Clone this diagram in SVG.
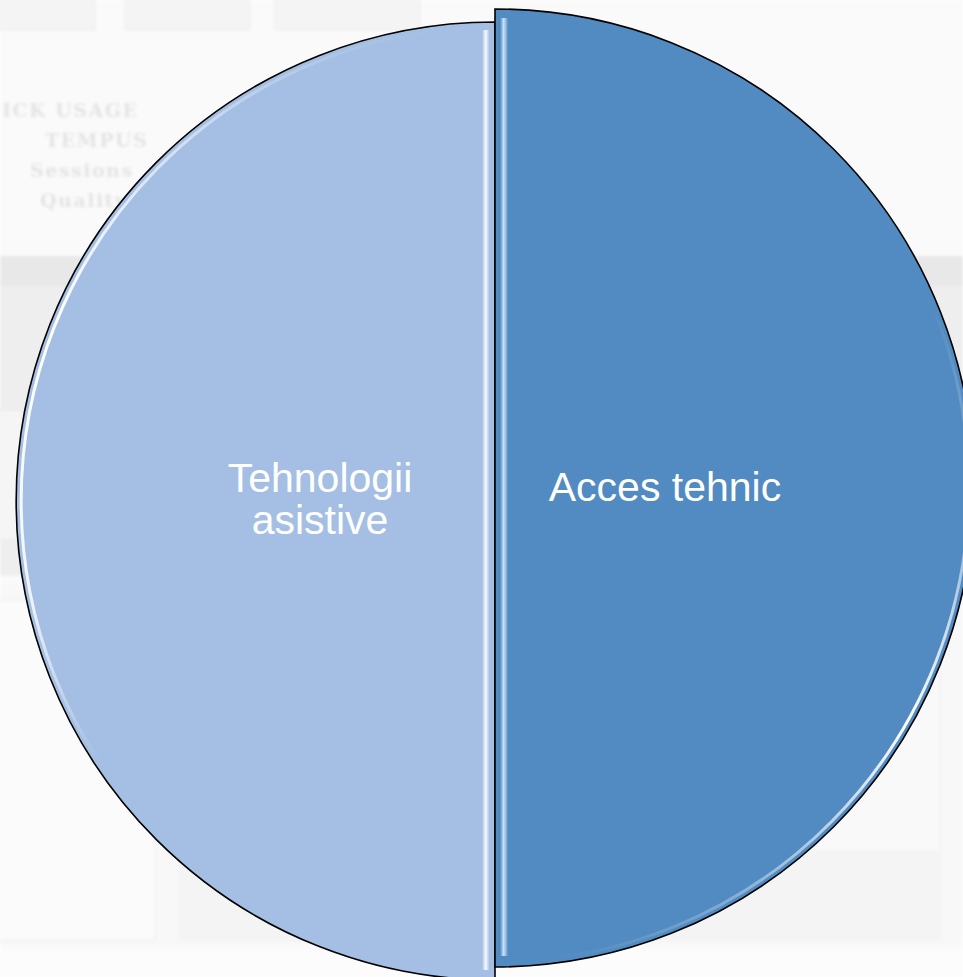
<svg xmlns="http://www.w3.org/2000/svg" width="963" height="977" viewBox="0 0 963 977">
<defs>
<style>
.bgtxt{font-family:"DejaVu Serif","Liberation Serif",serif;font-weight:bold;fill:#e3e3e3;font-size:19px;letter-spacing:1.5px}
.lbl{font-family:"Liberation Sans",Arial,sans-serif;font-size:41px;fill:#ffffff;text-anchor:middle}
.edge{stroke:#000;stroke-width:1.6;stroke-linejoin:miter}
.glow{fill:none}
</style>
<filter id="soft" filterUnits="userSpaceOnUse" x="0" y="0" width="963" height="977"><feGaussianBlur stdDeviation="0.5"/></filter>
<filter id="blurbg"><feGaussianBlur stdDeviation="1.8"/></filter>
<linearGradient id="glL" gradientUnits="userSpaceOnUse" x1="0" y1="30" x2="0" y2="970">
<stop offset="0" stop-color="#fff" stop-opacity="0"/>
<stop offset="0.12" stop-color="#fff" stop-opacity="0.5"/>
<stop offset="0.3" stop-color="#fff" stop-opacity="1"/>
<stop offset="0.6" stop-color="#fff" stop-opacity="0.85"/>
<stop offset="0.78" stop-color="#fff" stop-opacity="0"/>
</linearGradient>
<linearGradient id="glR" gradientUnits="userSpaceOnUse" x1="0" y1="20" x2="0" y2="960">
<stop offset="0.3" stop-color="#fff" stop-opacity="0"/>
<stop offset="0.55" stop-color="#fff" stop-opacity="0.4"/>
<stop offset="0.75" stop-color="#fff" stop-opacity="1"/>
<stop offset="0.9" stop-color="#fff" stop-opacity="0.45"/>
<stop offset="1" stop-color="#fff" stop-opacity="0"/>
</linearGradient>
<linearGradient id="stripL" x1="0" y1="0" x2="1" y2="0">
<stop offset="0" stop-color="#fff" stop-opacity="0"/>
<stop offset="0.55" stop-color="#fff" stop-opacity="0.95"/>
<stop offset="1" stop-color="#c8daf0" stop-opacity="0.5"/>
</linearGradient>
<linearGradient id="stripR" x1="0" y1="0" x2="1" y2="0">
<stop offset="0" stop-color="#3f78ae" stop-opacity="0.6"/>
<stop offset="0.5" stop-color="#c9e6ff" stop-opacity="0.95"/>
<stop offset="1" stop-color="#fff" stop-opacity="0"/>
</linearGradient>
</defs>

<g id="background" filter="url(#blurbg)">
<rect x="0" y="0" width="963" height="977" fill="#fafafa"/>
<rect x="-5" y="0" width="100" height="30" fill="#f4f4f4" stroke="#ececec"/>
<rect x="125" y="0" width="125" height="30" fill="#f4f4f4" stroke="#ececec"/>
<rect x="275" y="0" width="145" height="30" fill="#f4f4f4" stroke="#ececec"/>
<text x="2" y="117" class="bgtxt">ICK USAGE</text>
<text x="45" y="147" class="bgtxt">TEMPUS</text>
<text x="30" y="177" class="bgtxt">Sessions</text>
<text x="40" y="207" class="bgtxt">Quality</text>
<rect x="0" y="256" width="963" height="320" fill="#eeeeee"/>
<rect x="0" y="256" width="963" height="30" fill="#e8e8e8"/>
<rect x="-5" y="410" width="28" height="130" fill="#f5f5f5" stroke="#e6e6e6"/>
<rect x="0" y="585" width="963" height="360" fill="#f8f8f8"/>
<rect x="-5" y="600" width="160" height="340" fill="#fbfbfb" stroke="#eeeeee"/>
<rect x="180" y="600" width="760" height="340" fill="#f9f9f9" stroke="#eeeeee"/>
<rect x="180" y="850" width="760" height="90" fill="#f4f4f4"/>
<rect x="0" y="950" width="963" height="27" fill="#fcfcfc"/>
</g>

<g id="node-tehnologii">
<path d="M495,22 A479,479 0 0 0 495,980 Z" fill="#a4bfe3" class="edge"/>
<path d="M489,27.04 A474,474 0 0 0 489,974.96" class="glow" stroke="url(#glL)" stroke-width="3" filter="url(#soft)"/>
<rect x="482" y="30" width="7" height="940" fill="url(#stripL)"/>
<text x="320" y="492" class="lbl">Tehnologii</text>
<text x="320" y="534" class="lbl">asistive</text>
</g>

<g id="node-acces">
<path d="M495,9 A479,479 0 0 1 495,967 Z" fill="#528bc1" class="edge"/>
<path d="M501,14.04 A474,474 0 0 1 501,961.96" class="glow" stroke="url(#glR)" stroke-width="3" filter="url(#soft)"/>
<rect x="499" y="18" width="9" height="938" fill="url(#stripR)"/>
<text x="665" y="501" class="lbl">Acces tehnic</text>
</g>

<g id="connectors"/>
</svg>
